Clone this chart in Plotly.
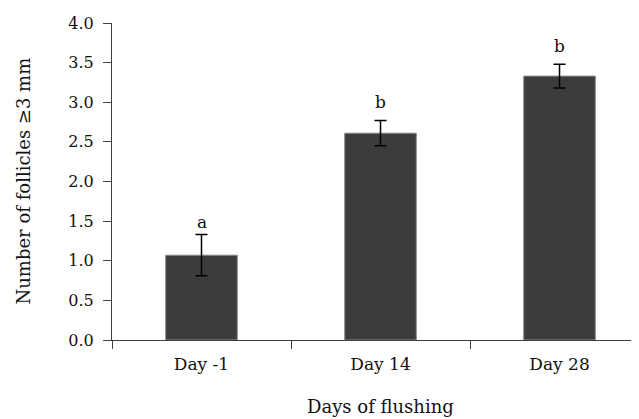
import plotly.graph_objects as go

categories = ["Day -1", "Day 14", "Day 28"]
means = [1.07, 2.61, 3.33]
errors = [0.26, 0.16, 0.15]
letters = ["a", "b", "b"]
y_ticks = [0, 0.5, 1.0, 1.5, 2.0, 2.5, 3.0, 3.5, 4.0]

FONT = "DejaVu Serif"
# page body has an 8px margin, so the figure is sized to end at the window edge
W, H = 631, 411
ML, MR, MT, MB = 104, 0, 15, 79
PW = W - ML - MR

fig = go.Figure()
fig.add_trace(go.Bar(
    x=categories, y=means,
    marker=dict(color="#3c3c3c", line=dict(color="#8a8a8a", width=1)),
    error_y=dict(type="data", array=errors, visible=True, color="#000000",
                 thickness=1.5, width=6),
    width=0.4,
))

# 'b' has an ascender, so it sits a little higher above its whisker
letter_shift = {"a": 13, "b": 18}
for c, m, e, l in zip(categories, means, errors, letters):
    fig.add_annotation(x=c, y=m + e, text=l, showarrow=False,
                       yshift=letter_shift.get(l, 15), yanchor="middle",
                       font=dict(family=FONT, size=17, color="#111"))

fig.add_annotation(x=1, y=0, xref="x", yref="paper", text="Days of flushing",
                   showarrow=False, yshift=-66, yanchor="middle", xanchor="center",
                   font=dict(family=FONT, size=18, color="#111"))
fig.add_annotation(x=(15 - ML) / PW, y=0.5, xref="paper", yref="paper",
                   text="Number of follicles ≥3 mm", textangle=-90, showarrow=False,
                   xanchor="center", yanchor="middle",
                   font=dict(family=FONT, size=18, color="#111"))

fig.update_layout(
    width=W, height=H,
    margin=dict(l=ML, r=MR, t=MT, b=MB),
    paper_bgcolor="white", plot_bgcolor="white",
    showlegend=False,
    font=dict(family=FONT, size=16, color="#111"),
)
fig.update_xaxes(
    type="category", range=[-0.5, 2.444],
    showline=True, linecolor="#404040", linewidth=1.2,
    ticks="outside", tickson="boundaries", ticklen=8, tickcolor="#404040",
    ticklabelstandoff=8,
    showgrid=False, zeroline=False,
    tickfont=dict(family=FONT, size=17),
)
fig.update_yaxes(
    range=[0, 4], tickvals=y_ticks, tickformat=".1f",
    showline=True, linecolor="#404040", linewidth=1.2,
    ticks="outside", ticklen=8, tickcolor="#404040",
    ticklabelstandoff=6,
    showgrid=False, zeroline=False,
    tickfont=dict(family=FONT, size=16),
)

fig.write_html("out.html")
